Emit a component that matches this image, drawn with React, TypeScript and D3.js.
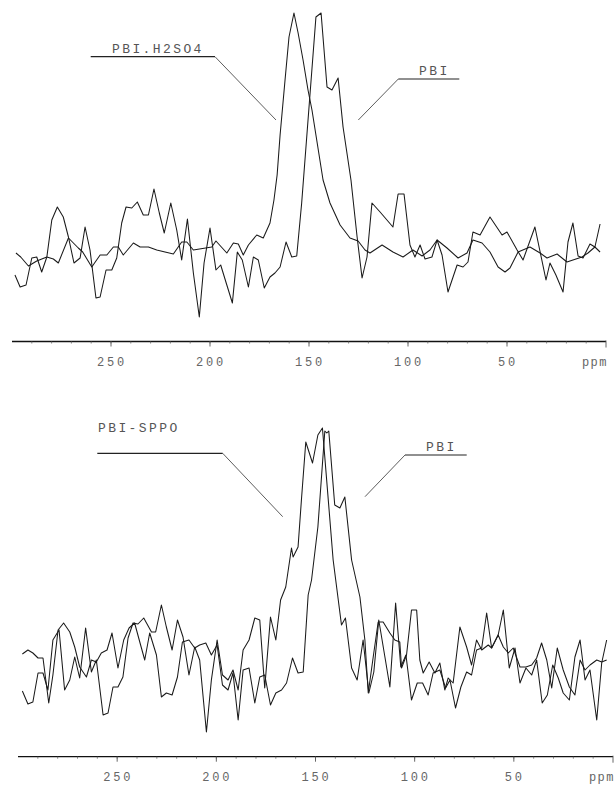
import React from "react";
import * as d3 from "d3";

// [ppm, intensity]
const topH2SO4: [number, number][] = [
  [298.0, -3], [295.6, -7], [291.7, -16], [287.5, -11], [282.4, -7], [279.1, -9], [276.6, -13],
  [271.5, 12], [266.5, 2], [264.3, -2], [259.7, -17], [255.5, -5], [252.1, -5], [248.8, 3],
  [246.3, 3], [243.8, -5], [238.7, 7], [235.3, 3], [231.1, 3], [226.9, 0], [218.5, -4],
  [214.3, 8], [211.7, 8], [208.4, 0], [199.1, 3], [197.0, 9], [191.5, -3], [188.2, 7],
  [185.7, 6], [183.2, -5], [180.6, 5], [176.4, 15], [173.1, 12], [169.7, 27], [167.7, 50],
  [166.1, 75], [164.6, 115], [162.1, 170], [160.1, 213], [157.6, 237], [155.5, 217],
  [153.0, 190], [150.5, 160], [148.5, 140], [142.9, 70], [139.4, 47], [134.3, 25],
  [129.3, 12], [125.2, 9], [121.7, 0], [119.2, -3], [113.1, 5], [107.6, -2], [102.5, -7],
  [97.5, 0], [92.9, -6], [88.9, 0], [85.3, 10], [80.3, 2], [74.7, -8], [70.2, -3],
  [67.2, 10], [62.6, 7], [58.6, -2], [54.5, -17], [51.0, -22], [48.5, -18], [44.4, -2],
  [38.4, 3], [33.3, -3], [29.8, -8], [24.7, -4], [19.7, -12], [16.7, -10], [12.1, -7],
  [9.1, -3], [5.6, 3], [3.0, -2],
];

const topPBI: [number, number][] = [
  [298.5, -25], [295.9, -37], [292.9, -35], [290.0, -8], [287.5, -7], [285.0, -22],
  [282.4, -7], [279.9, 30], [277.1, 43], [274.1, 33], [271.5, 13], [268.7, -13],
  [265.6, -8], [263.1, 23], [260.6, 0], [257.6, -48], [255.5, -47], [252.5, -20],
  [249.6, -20], [247.1, -8], [244.6, 27], [242.4, 43], [239.5, 42], [236.7, 48],
  [233.7, 35], [231.1, 35], [228.3, 61], [225.6, 37], [223.1, 17], [219.8, 47],
  [216.8, 20], [214.3, -10], [211.4, 31], [208.4, -23], [205.4, -67], [203.0, -13],
  [200.0, 22], [197.0, -20], [194.6, -15], [191.5, -35], [188.7, -53], [186.2, -2],
  [183.7, -10], [180.6, -37], [178.1, -7], [175.6, -10], [172.6, -38], [169.7, -27],
  [167.2, -23], [164.6, -17], [161.6, 8], [158.7, -7], [156.2, -6], [153.7, 47],
  [146.5, 233], [143.9, 237], [140.9, 163], [138.4, 160], [135.3, 172], [132.8, 123],
  [128.8, 70], [125.7, 13], [123.2, -28], [120.7, -7], [118.2, 47], [114.1, 38],
  [107.6, 23], [105.0, 56], [102.0, 56], [99.0, 5], [96.5, -7], [93.9, 5], [91.4, -9],
  [87.9, -7], [85.3, 10], [82.8, -5], [79.8, -42], [75.2, -15], [72.2, -17], [69.7, -12],
  [67.2, 18], [63.6, 15], [58.6, 33], [52.5, 15], [50.0, 18], [44.9, 0], [41.9, -10],
  [35.9, 23], [30.3, -30], [28.3, -13], [25.3, -25], [21.7, -42], [19.2, 8], [16.7, 27],
  [14.1, -6], [11.6, -8], [8.1, 6], [5.6, 3], [3.0, 26],
];

const botSPPO: [number, number][] = [
  [297.8, -31], [295.0, -44], [292.5, -42], [289.9, -13], [287.4, -13], [284.9, -30],
  [282.4, 20], [279.3, 30], [276.5, -30], [273.9, -20], [271.4, 3], [268.9, -18],
  [265.9, 32], [263.0, -12], [260.5, 0], [257.1, -55], [254.6, -53], [252.1, -27],
  [249.6, -27], [247.1, -17], [244.5, 22], [242.0, 37], [239.5, 36], [236.6, 42],
  [232.7, 28], [230.6, 28], [227.7, 55], [225.2, 33], [222.3, 10], [219.6, 40],
  [216.8, 23], [213.8, -15], [210.9, 13], [208.4, 0], [205.0, -72], [202.5, -20],
  [199.6, 20], [196.9, -15], [194.1, -20], [191.6, -10], [189.0, -30], [186.5, 10],
  [183.5, 20], [180.6, 42], [178.1, 40], [175.6, -28], [172.7, 43], [170.0, 20],
  [167.6, 60], [165.0, 73], [162.1, 112], [161.3, 103], [158.8, 113], [157.1, 160],
  [154.9, 218], [151.5, 197], [148.8, 225], [146.5, 232], [141.1, 100], [136.9, 35],
  [134.9, 42], [131.8, -8], [129.0, -20], [126.0, 20], [123.1, -33], [120.6, -12],
  [118.1, 40], [115.0, 3], [112.5, -27], [109.6, 57], [107.0, -7], [104.4, 5],
  [101.6, -40], [98.7, -23], [96.0, -23], [93.2, -35], [90.7, -13], [87.3, -10],
  [84.4, -28], [82.2, -20], [79.4, -48], [76.7, -27], [73.8, -12], [71.3, -15],
  [68.8, 10], [66.2, 12], [63.7, 47], [61.2, 12], [57.9, 25], [55.3, 50], [52.3, -8],
  [49.4, 12], [46.9, -23], [43.9, -8], [41.0, -15], [38.5, 0], [35.7, -43], [33.1, -35],
  [30.4, -5], [27.6, -18], [25.1, -33], [22.0, -40], [19.2, 3], [16.6, 20], [14.1, -20],
  [11.6, -10], [8.2, -60], [5.7, -3], [3.2, 20],
];

const botPBI: [number, number][] = [
  [297.8, 6], [295.0, 10], [292.5, 7], [289.9, 2], [287.4, 2], [284.5, -43], [282.4, -15],
  [279.8, 30], [277.0, 37], [273.9, 28], [271.4, 13], [268.9, -7], [265.5, -17],
  [263.0, 0], [260.5, -2], [258.0, 7], [255.1, 10], [252.6, 27], [249.6, -8], [246.7, 20],
  [244.0, 32], [241.2, 37], [238.6, 18], [236.1, 0], [233.6, 27], [230.2, 5], [227.7, -37],
  [225.2, -33], [222.3, -35], [219.6, -17], [217.1, 18], [213.8, 20], [210.9, 12],
  [208.4, 15], [205.3, 17], [202.5, 5], [199.6, 15], [196.9, -25], [194.1, -30],
  [191.6, -13], [189.0, -60], [186.5, -10], [183.5, -8], [180.6, -43], [178.1, -17],
  [175.6, -15], [172.7, -45], [170.0, -33], [167.1, -30], [164.6, -23], [161.6, 2],
  [158.8, -13], [156.2, -12], [153.7, 65], [152.0, 80], [148.8, 133], [145.3, 229],
  [144.3, 227], [143.3, 229], [140.3, 155], [137.7, 152], [135.2, 163], [131.8, 100],
  [127.6, 63], [125.1, 20], [123.4, -33], [120.9, 3], [118.4, 38], [115.9, 38],
  [112.5, 27], [110.0, 20], [107.5, 18], [106.6, -8], [104.1, 5], [101.6, 50], [99.0, 50],
  [97.4, 0], [95.7, -13], [92.7, -2], [89.8, -13], [87.3, -3], [84.8, -30], [83.1, -18],
  [80.6, -23], [77.2, 33], [73.8, 13], [71.3, -5], [68.8, 20], [66.2, 10], [62.9, 15],
  [61.2, 12], [57.9, 25], [55.3, 13], [52.8, 7], [50.3, 12], [46.9, -7], [43.9, -7],
  [41.0, -5], [38.5, 2], [36.0, 17], [33.4, 0], [30.9, -28], [28.1, 12], [25.1, -10],
  [22.0, -27], [19.2, -35], [16.6, 0], [14.1, -10], [11.6, -5], [8.2, 0], [5.7, -2],
  [3.2, 0],
];

const majorTicks = [250, 200, 150, 100, 50];
const minorTicks = d3.range(290, 0, -10);
const unitLabel = "ppm";

type Label = { text: string; tx: number; ty: number; hx1: number; hx2: number; hy: number; dx: number; dy: number; sx: number };

function Panel({
  series, x0, x1, baseY, axisY, labels,
}: {
  series: [number, number][][]; x0: number; x1: number; baseY: number; axisY: number; labels: Label[];
}) {
  const x = d3.scaleLinear().domain([300, 0]).range([x0, x1]);
  const y = d3.scaleLinear().domain([0, 240]).range([baseY, baseY - 240]);
  const line = d3.line<[number, number]>().x((d) => x(d[0])).y((d) => y(d[1]));
  const mono = "'Liberation Mono', 'DejaVu Sans Mono', monospace";
  return (
    <g>
      {series.map((s, i) => (
        <path key={i} d={line(s) || ""} fill="none" stroke="#1a1a1a" strokeWidth={1.05} strokeLinejoin="round" />
      ))}
      <line x1={x0} x2={x1} y1={axisY} y2={axisY} stroke="#111" strokeWidth={1.3} />
      {minorTicks.map((t) => (
        <line key={"m" + t} x1={x(t)} x2={x(t)} y1={axisY} y2={axisY + 2} stroke="#666" strokeWidth={0.8} />
      ))}
      {majorTicks.map((t) => (
        <g key={"M" + t}>
          <line x1={x(t)} x2={x(t)} y1={axisY} y2={axisY + 5} stroke="#555" strokeWidth={0.9} />
          <text x={x(t) + 1} y={axisY + 24} textAnchor="middle" fontFamily={mono} fontSize={12} letterSpacing={2.8} fill="#666">
            {t}
          </text>
        </g>
      ))}
      <line x1={x(0)} x2={x(0)} y1={axisY - 1} y2={axisY + 6} stroke="#555" strokeWidth={0.9} />
      <text x={x(0) + 2} y={axisY + 24} textAnchor="end" fontFamily={mono} fontSize={12} letterSpacing={1.5} fill="#666">
        {unitLabel}
      </text>
      {labels.map((l) => (
        <g key={l.text}>
          <text x={l.tx} y={l.ty} fontFamily={mono} fontSize={13} letterSpacing={2.4} fill="#555">
            {l.text}
          </text>
          <polyline points={`${l.hx1},${l.hy} ${l.hx2},${l.hy}`} fill="none" stroke="#222" strokeWidth={1.2} />
          <line x1={l.sx} y1={l.hy} x2={l.dx} y2={l.dy} stroke="#333" strokeWidth={0.8} />
        </g>
      ))}
    </g>
  );
}

export default function App() {
  return (
    <svg width={615} height={790} style={{ position: "absolute", left: 0, top: 0, background: "#fff" }}>
      <rect width={615} height={790} fill="#fff" />
      <Panel
        series={[topH2SO4, topPBI]}
        x0={12}
        x1={606}
        baseY={250}
        axisY={341.5}
        labels={[
          { text: "PBI.H2SO4", tx: 112, ty: 52.5, hx1: 90.7, hx2: 215, hy: 56.7, sx: 215, dx: 276, dy: 120 },
          { text: "PBI", tx: 419, ty: 75, hx1: 398.3, hx2: 459.3, hy: 79, sx: 398.3, dx: 358.3, dy: 120 },
        ]}
      />
      <Panel
        series={[botSPPO, botPBI]}
        x0={18}
        x1={613}
        baseY={660}
        axisY={756.7}
        labels={[
          { text: "PBI-SPPO", tx: 98, ty: 431.5, hx1: 97.3, hx2: 222.7, hy: 453.3, sx: 222.7, dx: 282.7, dy: 516.7 },
          { text: "PBI", tx: 426, ty: 450.5, hx1: 405, hx2: 466.7, hy: 455, sx: 405, dx: 365, dy: 496.7 },
        ]}
      />
    </svg>
  );
}
